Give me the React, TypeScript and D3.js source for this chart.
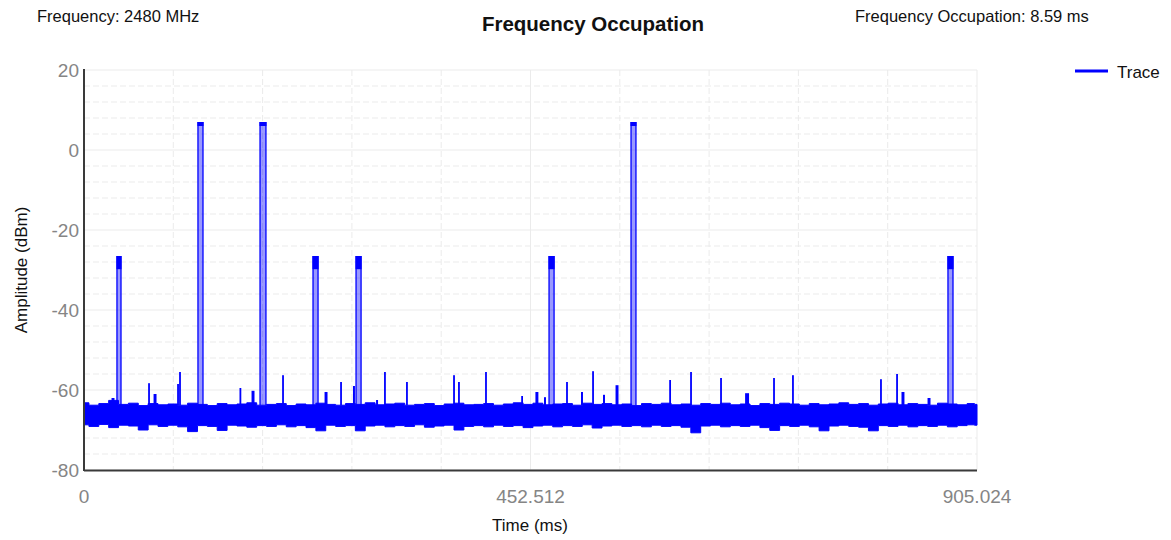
import React from "react";
import * as d3 from "d3";

// ---- header texts ----
const titleText = "Frequency Occupation";
const frequencyText = "Frequency: 2480 MHz";
const occupationText = "Frequency Occupation: 8.59 ms";
const xAxisLabel = "Time (ms)";
const yAxisLabel = "Amplitude (dBm)";
const legendLabel = "Trace";

// ---- axes ----
const timeMax = 905.024;
const xTicks = [0, 452.512, 905.024];
const yTicks = [-80, -60, -40, -20, 0, 20];

// ---- noise floor: min / max envelope of the trace per 10 ms bin ----
const noiseTime = [
  0, 10, 20, 30, 40, 50, 60, 70, 80, 90,
  100, 110, 120, 130, 140, 150, 160, 170, 180, 190,
  200, 210, 220, 230, 240, 250, 260, 270, 280, 290,
  300, 310, 320, 330, 340, 350, 360, 370, 380, 390,
  400, 410, 420, 430, 440, 450, 460, 470, 480, 490,
  500, 510, 520, 530, 540, 550, 560, 570, 580, 590,
  600, 610, 620, 630, 640, 650, 660, 670, 680, 690,
  700, 710, 720, 730, 740, 750, 760, 770, 780, 790,
  800, 810, 820, 830, 840, 850, 860, 870, 880, 890,
  900, 905.024,
];
const noiseUpper = [
  -63.2, -63.8, -63.4, -62.6, -63.6, -63.3, -63.9, -63.4, -63.7, -63.5,
  -63.8, -63.3, -63.6, -63.9, -63.4, -63.7, -63.5, -63.2, -63.8, -63.6,
  -63.4, -63.9, -63.5, -63.7, -63.3, -63.6, -63.8, -63.4, -63.6, -63.2,
  -63.7, -63.5, -63.3, -63.8, -63.6, -63.4, -63.9, -63.5, -63.3, -63.7,
  -63.6, -63.4, -63.8, -63.5, -63.2, -63.6, -63.3, -63.7, -63.5, -63.4,
  -63.8, -63.3, -63.6, -63.4, -63.7, -63.5, -63.9, -63.4, -63.6, -63.3,
  -63.7, -63.5, -63.8, -63.4, -63.6, -63.3, -63.7, -63.5, -63.9, -63.4,
  -63.6, -63.3, -63.5, -63.8, -63.4, -63.7, -63.5, -63.2, -63.6, -63.4,
  -63.8, -63.5, -63.3, -63.7, -63.4, -63.6, -63.8, -63.3, -63.5, -63.7,
  -63.4, -63.6,
];
const noiseLower = [
  -68.7, -69.1, -68.6, -69.4, -68.8, -69.0, -70.0, -68.7, -69.1, -68.8,
  -69.2, -70.4, -68.9, -69.1, -70.1, -68.8, -69.0, -69.3, -68.9, -69.1,
  -68.7, -69.2, -68.9, -69.4, -70.2, -68.8, -69.1, -68.9, -70.2, -69.0,
  -68.8, -69.2, -68.9, -69.1, -68.7, -69.3, -69.0, -68.8, -70.0, -69.1,
  -68.9, -69.2, -68.8, -69.1, -68.9, -69.4, -69.0, -68.8, -69.2, -68.9,
  -69.1, -68.7, -69.5, -69.0, -68.8, -69.1, -68.9, -69.2, -68.8, -69.1,
  -68.9, -69.3, -70.7, -69.0, -68.8, -69.2, -68.9, -69.1, -68.8, -69.4,
  -70.1, -68.9, -69.1, -68.8, -69.2, -70.2, -69.0, -68.8, -69.1, -69.3,
  -70.2, -68.9, -69.1, -68.8, -69.2, -68.9, -69.1, -68.8, -69.2, -68.9,
  -68.7, -68.8,
];

// ---- bursts (occupied slots) ----
const burstStart = [33.4, 115.5, 178.4, 232.1, 275.7, 471.3, 554.4, 875.6];
const burstEnd = [37.5, 120.6, 184.4, 237.2, 280.8, 476.4, 559.4, 880.7];
const burstPeak = [-26.5, 7, 7, -26.5, -26.5, -26.5, 7, -26.5];
const burstPeakLow = [-29.8, 6, 6, -29.8, -29.8, -29.8, 6, -29.8];

// ---- short interference spikes above the noise floor ----
const spikeTime = [
  29.4, 65.9, 72.0, 95.3, 97.3, 158.5, 171.3, 201.7, 245.3, 260.5,
  273.6, 297.0, 305.0, 327.3, 375.0, 380.0, 407.4, 444.0, 459.0, 467.2,
  489.5, 504.7, 515.9, 527.0, 540.2, 594.0, 615.2, 645.6, 672.0, 699.3,
  718.5, 807.7, 824.0, 830.0, 856.4,
];
const spikePeak = [
  -62.0, -58.3, -61.0, -58.5, -55.5, -59.5, -60.2, -56.3, -60.5, -58.0,
  -59.0, -62.5, -55.5, -58.0, -56.3, -58.0, -55.5, -61.5, -60.5, -61.8,
  -58.0, -60.5, -55.3, -61.2, -58.8, -57.5, -55.5, -57.0, -60.8, -57.0,
  -56.3, -57.3, -56.0, -60.5, -62.0,
];
const spikeWidth = [
  3, 1, 3, 1, 1.2, 1, 3, 1, 3, 1,
  2, 2, 1, 1.5, 1, 1.5, 1, 1.5, 3, 2,
  1.5, 2, 1, 2, 3, 1, 1, 1, 4, 1,
  1, 1, 1.2, 3, 3,
];

const W = 1171;
const H = 540;
const plot = { left: 84, right: 977, top: 70, bottom: 470 };
const BLUE = "#0000ff";
const FONT = "'Liberation Sans', Arial, sans-serif";

export default function App() {
  const x = d3.scaleLinear().domain([0, timeMax]).range([plot.left, plot.right]);
  const y = d3.scaleLinear().domain([-80, 20]).range([plot.bottom, plot.top]);

  const minorX = d3.range(0, 11).map((i) => (timeMax / 10) * i);
  const minorY = d3.range(-80, 21, 4);

  const band = noiseTime.map((t, i) => ({ t, hi: noiseUpper[i], lo: noiseLower[i] }));
  const bandArea = d3
    .area<{ t: number; hi: number; lo: number }>()
    .x((d) => x(d.t))
    .y0((d) => y(d.lo))
    .y1((d) => y(d.hi))
    .curve(d3.curveStep);

  const floorTop = -63.8;

  return (
    <svg
      width={W}
      height={H}
      style={{ position: "absolute", left: 0, top: 0, background: "#fff" }}
      fontFamily={FONT}
    >
      {/* header */}
      <text x={37} y={22} fontSize={16.5} fill="#111">{frequencyText}</text>
      <text x={593} y={31} fontSize={20.5} fontWeight="bold" textAnchor="middle" fill="#111">
        {titleText}
      </text>
      <text x={855} y={22} fontSize={16.5} fill="#111">{occupationText}</text>

      {/* grid */}
      <g>
        {minorY.map((v) => (
          <line
            key={"gy" + v}
            x1={plot.left}
            x2={plot.right}
            y1={y(v)}
            y2={y(v)}
            stroke="#ebebeb"
            strokeWidth={1}
            strokeDasharray={v % 20 === 0 ? undefined : "6,3"}
          />
        ))}
        {minorX.map((v, i) => (
          <line
            key={"gx" + i}
            x1={x(v)}
            x2={x(v)}
            y1={plot.top}
            y2={plot.bottom}
            stroke="#ebebeb"
            strokeWidth={1}
            strokeDasharray={i % 5 === 0 ? undefined : "6,3"}
          />
        ))}
      </g>

      {/* trace: noise floor */}
      <path d={bandArea(band) ?? ""} fill={BLUE} stroke={BLUE} strokeWidth={1} />

      {/* trace: interference spikes */}
      {spikeTime.map((t, i) => {
        const w = Math.max(1.8, x(t + spikeWidth[i]) - x(t));
        return (
          <rect
            key={"s" + i}
            x={x(t) - w / 2}
            y={y(spikePeak[i])}
            width={w}
            height={y(floorTop) - y(spikePeak[i])}
            fill={BLUE}
          />
        );
      })}

      {/* trace: bursts */}
      {burstStart.map((t0, i) => {
        const x0 = x(t0);
        const x1 = x(burstEnd[i]);
        const yTop = y(burstPeak[i]);
        const yBase = y(floorTop);
        return (
          <g key={"b" + i}>
            <rect x={x0} y={yTop} width={x1 - x0} height={yBase - yTop} fill={BLUE} opacity={0.4} />
            <line x1={x0} x2={x0} y1={yTop} y2={yBase} stroke={BLUE} strokeWidth={1.3} />
            <line x1={x1} x2={x1} y1={yTop} y2={yBase} stroke={BLUE} strokeWidth={1.3} />
            <rect
              x={x0 - 0.5}
              y={yTop}
              width={x1 - x0 + 1}
              height={y(burstPeakLow[i]) - yTop}
              fill={BLUE}
            />
          </g>
        );
      })}

      {/* axes */}
      <line x1={plot.left} x2={plot.left} y1={plot.top - 1} y2={plot.bottom + 1} stroke="#3a3a3a" strokeWidth={2} />
      <line x1={plot.left} x2={plot.right} y1={plot.bottom + 0.5} y2={plot.bottom + 0.5} stroke="#3a3a3a" strokeWidth={2} />

      {yTicks.map((v) => (
        <text
          key={"yt" + v}
          x={79}
          y={y(v) + 7}
          fontSize={19}
          textAnchor="end"
          fill="#858585"
        >
          {v}
        </text>
      ))}
      {xTicks.map((v) => (
        <text key={"xt" + v} x={x(v)} y={503} fontSize={19} textAnchor="middle" fill="#858585">
          {v === 0 ? "0" : v.toFixed(3)}
        </text>
      ))}

      <text x={530} y={531} fontSize={17} textAnchor="middle" fill="#111">{xAxisLabel}</text>
      <text
        transform="translate(27,270) rotate(-90)"
        fontSize={17}
        textAnchor="middle"
        fill="#111"
      >
        {yAxisLabel}
      </text>

      {/* legend */}
      <line x1={1075} x2={1108} y1={71} y2={71} stroke={BLUE} strokeWidth={3} />
      <text x={1117} y={78} fontSize={17} fill="#111">{legendLabel}</text>
    </svg>
  );
}
